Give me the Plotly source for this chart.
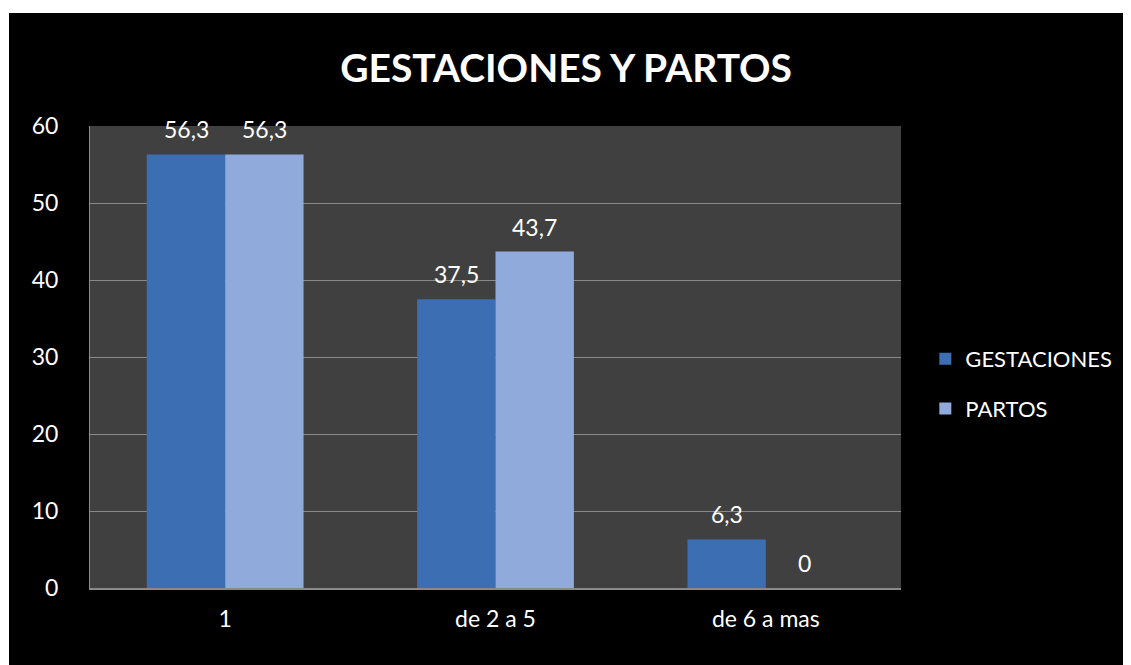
import plotly.graph_objects as go

categories = ["1", "de 2 a 5", "de 6 a mas"]
gestaciones = [56.3, 37.5, 6.3]
partos = [56.3, 43.7, 0]
series_names = ["GESTACIONES", "PARTOS"]
title_text = "GESTACIONES Y PARTOS"


def fmt(v):
    # Spanish decimal comma
    s = f"{v:.1f}".replace(".", ",")
    return s[:-2] if s.endswith(",0") else s


# page has an 8px body margin, so the figure is sized to fit the window
W, H = 1123, 657
ML, MR, MT, MB = 82, 230, 118, 77
pw, ph = W - ML - MR, H - MT - MB
FONT = "Lato, 'Open Sans', sans-serif"
BAR_PX = 78  # width of one bar, used to centre labels over each bar

fig = go.Figure()
fig.add_trace(go.Bar(
    x=categories, y=gestaciones, name=series_names[0], legendgroup="g",
    marker=dict(color="#3C6EB4", line=dict(width=0)),
))
fig.add_trace(go.Bar(
    x=categories, y=partos, name=series_names[1], legendgroup="p",
    marker=dict(color="#8FAADB", line=dict(width=0)),
))

# value labels above each bar (category axis: position by index)
for vals, shift in ((gestaciones, -BAR_PX / 2), (partos, BAR_PX / 2)):
    for i, v in enumerate(vals):
        fig.add_annotation(x=i, y=v, text=fmt(v), showarrow=False,
                           xshift=shift, yshift=25, yanchor="middle",
                           font=dict(size=23, color="white", family=FONT))

# white strips at the top and left of the black chart area
x0 = -ML / pw
x1 = (W - ML) / pw
y0 = -MB / ph
y1 = 1 + MT / ph
fig.add_shape(type="rect", xref="paper", yref="paper", x0=x0, x1=x1,
              y0=1 + (MT - 5) / ph, y1=y1, fillcolor="white", line_width=0)
fig.add_shape(type="rect", xref="paper", yref="paper", x0=x0, x1=(-ML + 1) / pw,
              y0=y0, y1=y1, fillcolor="white", line_width=0)

fig.update_layout(
    width=W, height=H,
    margin=dict(l=ML, r=MR, t=MT, b=MB, pad=0),
    paper_bgcolor="black", plot_bgcolor="#404040",
    font=dict(family=FONT, color="white", size=23),
    title=dict(text=f"<b>{title_text}</b>", x=0.497, xref="container", xanchor="center",
               y=1 - 60 / H, yanchor="middle",
               font=dict(size=39, color="white", family=FONT)),
    barmode="group", bargap=0.42, bargroupgap=0,
    showlegend=True,
    legend=dict(x=1.03, y=0.4416, xanchor="left", yanchor="middle",
                font=dict(size=22, color="white"), tracegroupgap=18,
                bgcolor="rgba(0,0,0,0)"),
    xaxis=dict(showgrid=False, showline=True, linecolor="#8A8A8A", linewidth=2,
               ticks="", tickfont=dict(size=23, color="white"), ticklabelstandoff=9),
    yaxis=dict(range=[0, 60], dtick=10, showgrid=True, gridcolor="#8A8A8A", gridwidth=1,
               showline=True, linecolor="#8A8A8A", linewidth=1, zeroline=False,
               ticks="", tickfont=dict(size=23, color="white"), ticklabelstandoff=26),
)

fig.write_html("out.html")
